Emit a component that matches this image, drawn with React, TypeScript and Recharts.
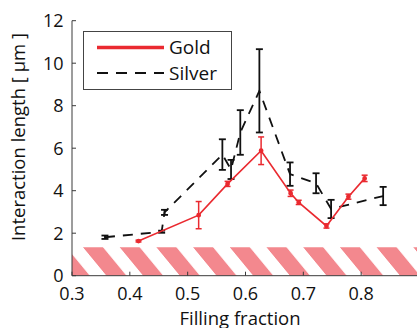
import React from 'react';
import { ComposedChart, Line, XAxis, YAxis, ErrorBar, ReferenceArea, Legend } from 'recharts';

const xTicks = [0.3, 0.4, 0.5, 0.6, 0.7, 0.8];
const xTicksAll = [0.3, 0.4, 0.5, 0.6, 0.7, 0.8, 0.9];
const yTicks = [0, 2, 4, 6, 8, 10, 12];

const goldX = [0.415, 0.519, 0.569, 0.627, 0.678, 0.692, 0.74, 0.778, 0.806];
const goldY = [1.63, 2.85, 4.32, 5.88, 3.88, 3.45, 2.34, 3.72, 4.58];
const goldErr = [0.04, 0.64, 0.12, 0.65, 0.15, 0.1, 0.1, 0.12, 0.15];

const silverX = [0.357, 0.455, 0.46, 0.56, 0.575, 0.591, 0.624, 0.677, 0.722, 0.748, 0.838];
const silverY = [1.81, 2.07, 2.98, 5.7, 5.0, 6.74, 8.7, 4.78, 4.35, 3.14, 3.75];
const silverErr = [0.08, 0.05, 0.12, 0.72, 0.45, 1.05, 1.96, 0.55, 0.47, 0.43, 0.43];

const bandTop = 1.34;

const goldData = goldX.map((x, i) => ({ x, y: goldY[i], err: goldErr[i] }));
const silverData = silverX.map((x, i) => ({ x, y: silverY[i], err: silverErr[i] }));

const RED = '#ea2a30';
const PINK = '#f3888e';
const FONT = '"Open Sans", sans-serif';
const AXIS = '#3a3a3a';

const LegendBox = () => (
  <div
    style={{
      width: 147,
      height: 57,
      border: '1px solid #444',
      background: '#fff',
      position: 'relative',
    }}
  >
    <svg width={147} height={57} style={{ position: 'absolute', left: 0, top: 0 }}>
      <line x1={13} y1={15.5} x2={80} y2={15.5} stroke={RED} strokeWidth={3.5} />
      <line x1={13} y1={41} x2={80} y2={41} stroke="#111" strokeWidth={1.8} strokeDasharray="11 8" />
      <text x={85} y={22} fontFamily={FONT} fontSize={19} fill="#111">Gold</text>
      <text x={85} y={47.5} fontFamily={FONT} fontSize={19} fill="#111">Silver</text>
    </svg>
  </div>
);

export default function App() {
  return (
    <div style={{ position: 'absolute', left: 0, top: 0, width: 417, height: 328, overflow: 'hidden', background: '#fff' }}>
      <ComposedChart width={431} height={328} margin={{ top: 20.7, right: 12, bottom: 0, left: 0 }}>
        <defs>
          <pattern id="hatch" patternUnits="userSpaceOnUse" width={36.7} height={20} x={26} y={0} patternTransform="skewX(39.5)">
            <rect x={0} y={0} width={20} height={20} fill={PINK} />
          </pattern>
        </defs>
        <XAxis
          xAxisId="b"
          type="number"
          dataKey="x"
          domain={[0.3, 0.9]}
          ticks={xTicks}
          allowDataOverflow
          height={52.3}
          tickSize={-4}
          tickMargin={15.5}
          tickFormatter={(v: number) => v.toFixed(1)}
          tick={{ fontFamily: FONT, fontSize: 18, fill: '#111' }}
          stroke={AXIS}
          label={{
            content: () => (
              <text x={240} y={324.5} textAnchor="middle" fontFamily={FONT} fontSize={18.5} fill="#111">
                Filling fraction
              </text>
            ),
          }}
        />
        <XAxis
          xAxisId="t"
          orientation="top"
          type="number"
          dataKey="x"
          domain={[0.3, 0.9]}
          ticks={xTicksAll}
          allowDataOverflow
          height={0}
          tickSize={-4}
          tick={false}
          stroke={AXIS}
        />
        <YAxis
          yAxisId="l"
          type="number"
          domain={[0, 12]}
          ticks={yTicks}
          width={72}
          tickSize={-4}
          tickMargin={12.5}
          tick={{ fontFamily: FONT, fontSize: 18, fill: '#111' }}
          stroke={AXIS}
          label={{
            content: () => (
              <text x={24.5} y={137} textAnchor="middle" transform="rotate(-90, 24.5, 137)" fontFamily={FONT} fontSize={18.5} fill="#111">
                Interaction length [ μm ]
              </text>
            ),
          }}
        />
        <YAxis
          yAxisId="r"
          orientation="right"
          type="number"
          domain={[0, 12]}
          ticks={yTicks}
          width={0}
          tickSize={-4}
          tick={false}
          stroke={AXIS}
        />
        <ReferenceArea xAxisId="b" yAxisId="l" x1={0.3} x2={0.9} y1={0} y2={bandTop} fill="url(#hatch)" fillOpacity={1} stroke="none" ifOverflow="hidden" />
        <Line
          xAxisId="b"
          yAxisId="l"
          data={silverData}
          dataKey="y"
          stroke="#111"
          strokeWidth={1.8}
          strokeDasharray="10 8"
          dot={false}
          isAnimationActive={false}
          legendType="none"
        >
          <ErrorBar dataKey="err" direction="y" width={3.5} stroke="#111" strokeWidth={1.8} />
        </Line>
        <Line
          xAxisId="b"
          yAxisId="l"
          data={goldData}
          dataKey="y"
          stroke={RED}
          strokeWidth={1.6}
          dot={{ r: 1.6, fill: RED, stroke: RED }}
          isAnimationActive={false}
          legendType="none"
        >
          <ErrorBar dataKey="err" direction="y" width={3} stroke={RED} strokeWidth={1.5} />
        </Line>
        <Legend
          layout="horizontal"
          verticalAlign="middle"
          align="center"
          content={() => <LegendBox />}
          wrapperStyle={{ position: 'absolute', left: 82.5, top: 30.5, width: 149, height: 59 }}
        />
      </ComposedChart>
    </div>
  );
}
